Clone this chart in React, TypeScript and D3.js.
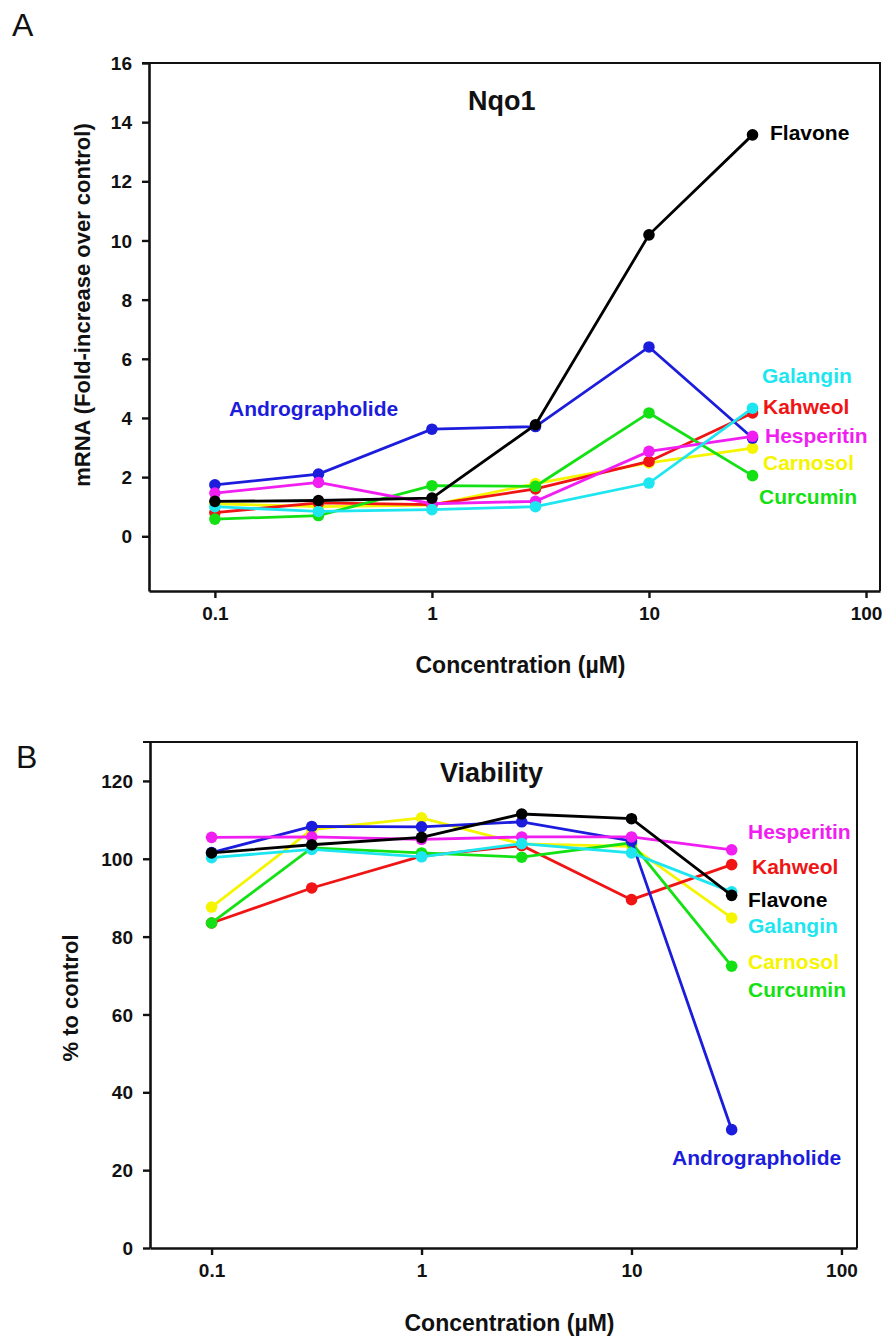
import React, { useEffect, useRef } from "react";
import * as d3 from "d3";

// concentrations (µM) shared by both panels
const concentrations = [0.1, 0.3, 1, 3, 10, 30];
const xTickValues = [0.1, 1, 10, 100];
const xTickLabels = ["0.1", "1", "10", "100"];

// Panel A: Nqo1 mRNA fold increase
const nqo1Yellow = [1.1, 1.0, 1.05, 1.78, 2.48, 2.98];
const nqo1Red = [0.8, 1.13, 1.07, 1.6, 2.53, 4.17];
const nqo1Green = [0.58, 0.7, 1.71, 1.69, 4.17, 2.05];
const nqo1Blue = [1.74, 2.1, 3.62, 3.71, 6.4, 3.32];
const nqo1Magenta = [1.46, 1.82, 1.1, 1.18, 2.87, 3.38];
const nqo1Cyan = [1.0, 0.84, 0.9, 1.0, 1.8, 4.33];
const nqo1Black = [1.18, 1.21, 1.29, 3.77, 10.19, 13.57];
const nqo1Ticks = [0, 2, 4, 6, 8, 10, 12, 14, 16];

// Panel B: viability, % to control
const viaYellow = [87.6, 107.5, 110.5, 103.8, 103.2, 84.8];
const viaRed = [83.5, 92.5, 100.7, 103.4, 89.5, 98.5];
const viaGreen = [83.5, 102.8, 101.5, 100.4, 104.1, 72.4];
const viaBlue = [101.6, 108.3, 108.2, 109.5, 104.6, 30.4];
const viaMagenta = [105.5, 105.6, 105, 105.6, 105.6, 102.3];
const viaCyan = [100.3, 102.4, 100.5, 103.9, 101.5, 91.5];
const viaBlack = [101.5, 103.6, 105.5, 111.5, 110.3, 90.6];
const viaTicks = [0, 20, 40, 60, 80, 100, 120];

const colors = {
  Andrographolide: "#1c1cdc",
  Flavone: "#000000",
  Galangin: "#1ee6f0",
  Kahweol: "#f01414",
  Hesperitin: "#f01ef0",
  Carnosol: "#f5f500",
  Curcumin: "#14e114",
};

const FONT = "'Liberation Sans', Arial, Helvetica, sans-serif";

const panels = [
  {
    letter: "A",
    letterPos: [12, 36],
    title: "Nqo1",
    titlePos: [468, 110],
    yTitle: "mRNA (Fold-increase over control)",
    yTitlePos: [82, 305],
    xTitleY: 665,
    xDomain: [0.0497, 116],
    xRange: [149, 880],
    yDomain: [-1.85, 16],
    yRange: [591, 63],
    yTicks: nqo1Ticks,
    series: [
      { name: "Carnosol", values: nqo1Yellow },
      { name: "Kahweol", values: nqo1Red },
      { name: "Curcumin", values: nqo1Green },
      { name: "Andrographolide", values: nqo1Blue },
      { name: "Hesperitin", values: nqo1Magenta },
      { name: "Galangin", values: nqo1Cyan },
      { name: "Flavone", values: nqo1Black },
    ],
    labels: [
      { name: "Flavone", pos: [770, 133] },
      { name: "Andrographolide", pos: [229, 409] },
      { name: "Galangin", pos: [762, 376] },
      { name: "Kahweol", pos: [763, 407] },
      { name: "Hesperitin", pos: [765, 436] },
      { name: "Carnosol", pos: [763, 463] },
      { name: "Curcumin", pos: [759, 497] },
    ],
  },
  {
    letter: "B",
    letterPos: [16, 768],
    title: "Viability",
    titlePos: [440, 782],
    yTitle: "% to control",
    yTitlePos: [70, 998],
    xTitleY: 1323,
    xDomain: [0.0509, 118.6],
    xRange: [150, 857],
    yDomain: [0, 130],
    yRange: [1248, 742],
    yTicks: viaTicks,
    series: [
      { name: "Carnosol", values: viaYellow },
      { name: "Kahweol", values: viaRed },
      { name: "Curcumin", values: viaGreen },
      { name: "Andrographolide", values: viaBlue },
      { name: "Hesperitin", values: viaMagenta },
      { name: "Galangin", values: viaCyan },
      { name: "Flavone", values: viaBlack },
    ],
    labels: [
      { name: "Hesperitin", pos: [748, 832] },
      { name: "Kahweol", pos: [752, 867] },
      { name: "Flavone", pos: [748, 900] },
      { name: "Galangin", pos: [748, 926] },
      { name: "Carnosol", pos: [748, 962] },
      { name: "Curcumin", pos: [748, 990] },
      { name: "Andrographolide", pos: [672, 1158] },
    ],
  },
];

export default function App() {
  const svgRef = useRef<SVGSVGElement>(null);

  useEffect(() => {
    const svg = d3.select(svgRef.current);
    svg.selectAll("*").remove();

    panels.forEach((p) => {
      const x = d3.scaleLog().domain(p.xDomain).range(p.xRange);
      const y = d3.scaleLinear().domain(p.yDomain).range(p.yRange);
      const [left, right] = p.xRange;
      const [bottom, top] = p.yRange;
      const g = svg.append("g");

      // top and right border of the frame
      g.append("path")
        .attr("d", `M${left - 7},${top}H${right}V${bottom}`)
        .attr("fill", "none")
        .attr("stroke", "#111")
        .attr("stroke-width", 2);

      // axes
      const xAxis = g
        .append("g")
        .attr("transform", `translate(0,${bottom})`)
        .call(
          d3
            .axisBottom(x)
            .tickValues(xTickValues)
            .tickFormat((d, i) => xTickLabels[i])
            .tickSizeInner(7)
            .tickSizeOuter(0)
            .tickPadding(9)
        );
      const yAxis = g
        .append("g")
        .attr("transform", `translate(${left},0)`)
        .call(
          d3
            .axisLeft(y)
            .tickValues(p.yTicks)
            .tickSizeInner(7)
            .tickSizeOuter(0)
            .tickPadding(10)
        );
      [xAxis, yAxis].forEach((ax) => {
        ax.select(".domain").attr("stroke", "#111").attr("stroke-width", 2.6);
        ax.selectAll(".tick line").attr("stroke", "#111").attr("stroke-width", 2.4);
        ax.selectAll(".tick text")
          .attr("fill", "#111")
          .style("font-family", FONT)
          .style("font-weight", "bold")
          .style("font-size", "19px");
      });
      yAxis.selectAll(".tick text").attr("dy", "0.35em");

      // series lines and markers
      const line = d3
        .line<number>()
        .x((d, i) => x(concentrations[i]))
        .y((d) => y(d));

      p.series.forEach((s) => {
        const c = colors[s.name];
        g.append("path")
          .attr("d", line(s.values))
          .attr("fill", "none")
          .attr("stroke", c)
          .attr("stroke-width", 2.8);
        g.selectAll(null)
          .data(s.values)
          .enter()
          .append("circle")
          .attr("cx", (d, i) => x(concentrations[i]))
          .attr("cy", (d) => y(d))
          .attr("r", 5.8)
          .attr("fill", c);
      });

      // compound labels
      p.labels.forEach((l) => {
        g.append("text")
          .attr("x", l.pos[0])
          .attr("y", l.pos[1])
          .attr("dy", "0.35em")
          .attr("fill", colors[l.name])
          .style("font-family", FONT)
          .style("font-weight", "bold")
          .style("font-size", "21px")
          .text(l.name);
      });

      // panel title
      g.append("text")
        .attr("x", p.titlePos[0])
        .attr("y", p.titlePos[1])
        .attr("fill", "#111")
        .style("font-family", FONT)
        .style("font-weight", "bold")
        .style("font-size", "27px")
        .text(p.title);

      // axis titles
      g.append("text")
        .attr("x", (left + right) / 2 + 6)
        .attr("y", p.xTitleY)
        .attr("dy", "0.35em")
        .attr("text-anchor", "middle")
        .attr("fill", "#111")
        .style("font-family", FONT)
        .style("font-weight", "bold")
        .style("font-size", "23px")
        .text("Concentration (\u00b5M)");

      g.append("text")
        .attr("transform", `translate(${p.yTitlePos[0]},${p.yTitlePos[1]}) rotate(-90)`)
        .attr("dy", "0.35em")
        .attr("text-anchor", "middle")
        .attr("fill", "#111")
        .style("font-family", FONT)
        .style("font-weight", "bold")
        .style("font-size", "22px")
        .text(p.yTitle);

      // panel letter
      g.append("text")
        .attr("x", p.letterPos[0])
        .attr("y", p.letterPos[1])
        .attr("fill", "#111")
        .style("font-family", FONT)
        .style("font-size", "32px")
        .text(p.letter);
    });
  }, []);

  return (
    <svg
      ref={svgRef}
      width={885}
      height={1339}
      style={{ position: "absolute", left: 0, top: 0, background: "#fff" }}
    />
  );
}
